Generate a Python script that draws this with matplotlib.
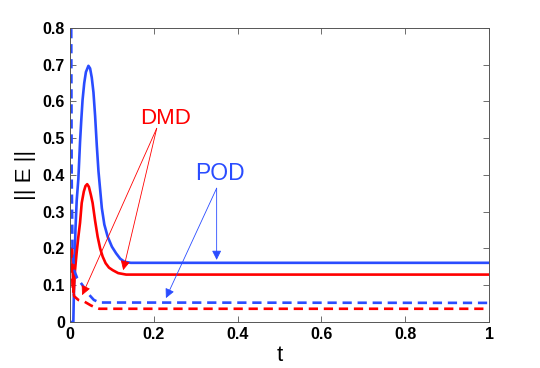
import numpy as np
import matplotlib
matplotlib.use('Agg')
import matplotlib.pyplot as plt
from matplotlib.ticker import FormatStrFormatter

blue = '#2a4cff'
red = '#ff0000'

# POD, solid
t_pod = [0.0, 0.008, 0.010, 0.013, 0.016, 0.020, 0.024, 0.027, 0.030, 0.034, 0.038,
         0.044, 0.048, 0.052, 0.056, 0.060, 0.064, 0.068, 0.072, 0.076, 0.082, 0.090,
         0.100, 0.110, 0.120, 0.130, 0.145, 1.0]
e_pod = [0.0, 0.0, 0.12, 0.25, 0.33, 0.39, 0.49, 0.55, 0.604, 0.65, 0.68,
         0.697, 0.69, 0.665, 0.625, 0.56, 0.48, 0.41, 0.36, 0.31, 0.265, 0.232,
         0.205, 0.187, 0.172, 0.164, 0.161, 0.161]
# DMD, solid
t_dmd = [0.003, 0.005, 0.007, 0.009, 0.012, 0.016, 0.020, 0.024, 0.028, 0.033, 0.037,
         0.041, 0.045, 0.050, 0.054, 0.060, 0.066, 0.072, 0.078, 0.085, 0.093, 0.102,
         0.115, 0.134, 1.0]
e_dmd = [0.2, 0.2, 0.12, 0.08, 0.141, 0.19, 0.232, 0.27, 0.324, 0.355, 0.37,
         0.375, 0.368, 0.345, 0.324, 0.275, 0.232, 0.2, 0.178, 0.16, 0.148, 0.141,
         0.133, 0.129, 0.129]
# POD, dashed
t_pod_d = [0.0, 0.003, 0.004, 0.006, 0.01, 0.017, 0.03, 0.045, 0.057, 0.07, 1.0]
e_pod_d = [0.9, 0.8, 0.4, 0.2, 0.14, 0.12, 0.1, 0.075, 0.06, 0.053, 0.052]
# DMD, dashed
t_dmd_d = [0.003, 0.006, 0.01, 0.02, 0.035, 0.05, 0.06, 0.07, 1.0]
e_dmd_d = [0.2, 0.1, 0.07, 0.06, 0.055, 0.045, 0.04, 0.036, 0.036]

fig = plt.figure(figsize=(5.4, 3.68), dpi=100)
ax = fig.add_axes([0.1296, 0.125, 0.776, 0.799])

ax.plot(t_pod, e_pod, color=blue, lw=1.9)
ax.plot(t_dmd, e_dmd, color=red, lw=1.9)
ax.plot(t_pod_d, e_pod_d, color=blue, lw=1.9, ls=(0, (3.5, 2.2)))
ax.plot(t_dmd_d, e_dmd_d, color=red, lw=1.9, ls=(0, (3.5, 2.2)))

ax.set_xlim(0, 1)
ax.set_ylim(0, 0.8)
ax.set_xticks([0, 0.2, 0.4, 0.6, 0.8, 1])
ax.set_yticks(np.arange(0, 0.81, 0.1))
ax.xaxis.set_major_formatter(FormatStrFormatter('%g'))
ax.yaxis.set_major_formatter(FormatStrFormatter('%g'))
ax.tick_params(direction='in', top=True, right=True, length=4, width=0.6,
               colors='#555555', labelcolor='black')
for lab in ax.get_xticklabels() + ax.get_yticklabels():
    lab.set_fontfamily('Liberation Sans')
    lab.set_fontweight('bold')
    lab.set_fontsize(11.5)
for s in ax.spines.values():
    s.set_color('#555555')
    s.set_linewidth(0.7)

ax.set_xlabel('t', fontsize=16, family='Liberation Sans', labelpad=2)
ax.set_ylabel('|| E ||', fontsize=16, family='Liberation Sans', labelpad=5)

arr_r = dict(arrowstyle='-|>', color=red, lw=0.6, mutation_scale=14, shrinkA=0, shrinkB=0)
arr_b = dict(arrowstyle='-|>', color=blue, lw=0.6, mutation_scale=14, shrinkA=0, shrinkB=0)

ax.text(0.227, 0.555, 'DMD', color=red, fontsize=16, family='Liberation Sans',
        ha='center', va='center')
ax.annotate('', xy=(0.127, 0.141), xytext=(0.207, 0.527), arrowprops=arr_r)
ax.annotate('', xy=(0.029, 0.073), xytext=(0.207, 0.527), arrowprops=arr_r)

ax.text(0.358, 0.405, 'POD', color=blue, fontsize=16.5, family='Liberation Sans',
        ha='center', va='center')
ax.annotate('', xy=(0.35, 0.169), xytext=(0.35, 0.364), arrowprops=arr_b)
ax.annotate('', xy=(0.229, 0.065), xytext=(0.35, 0.364), arrowprops=arr_b)

fig.savefig('out.png', dpi=100)
